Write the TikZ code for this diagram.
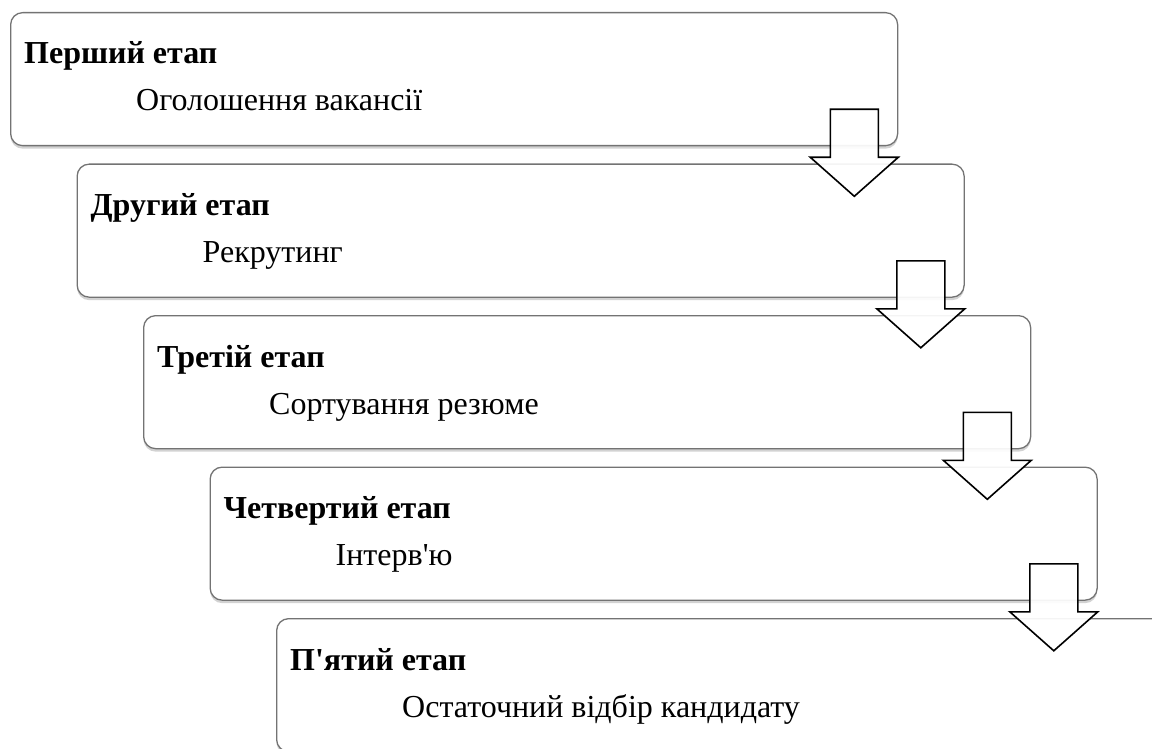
\documentclass[tikz,border=0pt]{standalone}
\usepackage{fontspec}
\setmainfont{Liberation Serif}[Ligatures=TeXOff]
\usetikzlibrary{calc,shadows}
\begin{document}
\begin{tikzpicture}[x=1pt,y=-1pt,
  box/.style={draw=black!55, line width=1.3pt, fill=white, rounded corners=12pt,
    minimum width=887pt, minimum height=133pt, anchor=north west, inner sep=0pt,
    drop shadow={shadow xshift=0pt, shadow yshift=-3pt, opacity=0.25, fill=black!70}},
  ttl/.style={font=\fontsize{32}{38}\selectfont\bfseries, anchor=base west, inner sep=0pt},
  txt/.style={font=\fontsize{32}{38}\selectfont, anchor=base west, inner sep=0pt},
  arr/.style={draw=black, line width=1.6pt, fill=white, fill opacity=0.92, line join=miter}]
\useasboundingbox (0,0) rectangle (1152,749);
\clip (0,0) rectangle (1152,749);
% boxes
\node[box] (b1) at (10,12) {};
\node[box] (b2) at (76.5,163.5) {};
\node[box] (b3) at (143,315) {};
\node[box] (b4) at (209.5,466.5) {};
\node[box] (b5) at (276,618) {};
% texts
\node[ttl] (h1) at ($(b1.north west)+(14,52)$) {Перший етап};
\node[txt] (s1) at ($(b1.north west)+(126,99)$) {Оголошення вакансії};
\node[ttl] (h2) at ($(b2.north west)+(14,52)$) {Другий етап};
\node[txt] (s2) at ($(b2.north west)+(126,99)$) {Рекрутинг};
\node[ttl] (h3) at ($(b3.north west)+(14,52)$) {Третій етап};
\node[txt] (s3) at ($(b3.north west)+(126,99)$) {Сортування резюме};
\node[ttl] (h4) at ($(b4.north west)+(14,52)$) {Четвертий етап};
\node[txt] (s4) at ($(b4.north west)+(126,99)$) {Інтерв'ю};
\node[ttl] (h5) at ($(b5.north west)+(14,52)$) {П'ятий етап};
\node[txt] (s5) at ($(b5.north west)+(126,99)$) {Остаточний відбір кандидату};
% arrows
\foreach \i in {1,2,3,4}{
  \coordinate (t\i) at ($(b\i.south east)+(-44,50)$);
  \draw[arr] (t\i) ++(-24,-87) -- ++(48,0) -- ++(0,48) -- ++(20,0) -- (t\i) -- ++(-44,-39) -- ++(20,0) -- cycle;
}
\end{tikzpicture}
\end{document}
